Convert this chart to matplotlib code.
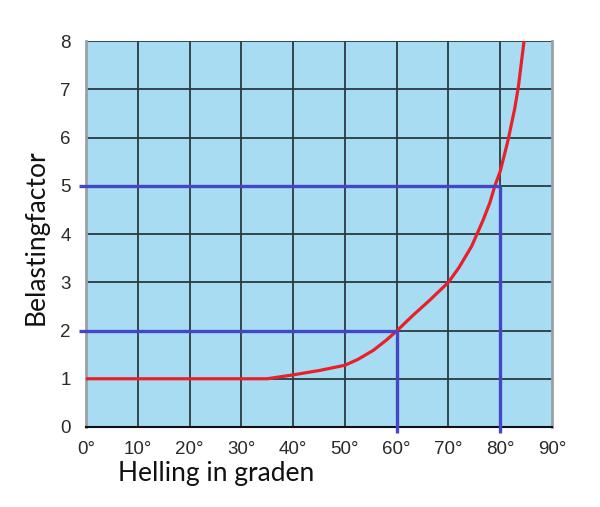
import matplotlib
matplotlib.use("Agg")
import matplotlib.pyplot as plt

# Data
curve_x = [0, 10, 20, 30, 35, 40, 45, 50, 52.5, 55.5, 58, 60, 63, 66.4, 70, 72, 74.5, 76.7, 78, 79, 80, 81.5, 82.8, 83.5, 84.6]
curve_y = [1.0, 1.0, 1.0, 1.0, 1.0, 1.08, 1.17, 1.28, 1.40, 1.59, 1.80, 1.99, 2.30, 2.63, 3.0, 3.3, 3.75, 4.29, 4.65, 5.01, 5.3, 5.94, 6.6, 7.05, 8.0]

x_ticks = [0, 10, 20, 30, 40, 50, 60, 70, 80, 90]
x_labels = [f"{v}°" for v in x_ticks]
y_ticks = [0, 1, 2, 3, 4, 5, 6, 7, 8]

guide_angles = [60, 80]
guide_factors = [2, 5]

fig = plt.figure(figsize=(6.0, 5.07), dpi=100)
ax = fig.add_axes([0.1433, 0.1578, 0.7767, 0.7612])
ax.set_facecolor("#a8dcf2")
ax.set_xlim(0, 90)
ax.set_ylim(0, 8)

for v in x_ticks[1:-1]:
    ax.axvline(v, color="#2a3a40", lw=1.3, zorder=1)
for v in y_ticks[1:]:
    ax.axhline(v, color="#2a3a40", lw=1.3, zorder=1)

for s in ["left", "right"]:
    ax.spines[s].set_color("#9aa0a4")
    ax.spines[s].set_linewidth(2)
ax.spines["top"].set_visible(False)
ax.spines["bottom"].set_color("#111111")
ax.spines["bottom"].set_linewidth(1.5)

ax.plot(curve_x, curve_y, color="#e8202a", lw=2.3, zorder=3,
        solid_capstyle="round", solid_joinstyle="round")

blue = "#4545c8"
for a, f in zip(guide_angles, guide_factors):
    ax.plot([-1.4, a], [f, f], color=blue, lw=2.4, zorder=4, clip_on=False, solid_capstyle="butt")
    ax.plot([a, a], [-0.13, f], color=blue, lw=2.4, zorder=4, clip_on=False, solid_capstyle="butt")

ax.set_xticks(x_ticks)
ax.set_xticklabels(x_labels, fontfamily="Liberation Sans", fontsize=13.5, color="#2a2a2a")
ax.set_yticks(y_ticks)
ax.set_yticklabels([str(v) for v in y_ticks], fontfamily="Liberation Sans", fontsize=13.5, color="#2a2a2a")
ax.tick_params(axis="x", length=0, pad=10)
ax.tick_params(axis="y", length=0, pad=11)

fig.text(118 / 600, 1 - 474 / 507, "Helling in graden", fontfamily="Lato", fontsize=19,
         ha="left", va="center", color="#111111")
fig.text(36 / 600, 1 - 237 / 507, "Belastingfactor", fontfamily="Lato", fontsize=19,
         ha="center", va="center", rotation=90, color="#111111")

fig.savefig("out.png", dpi=100)
